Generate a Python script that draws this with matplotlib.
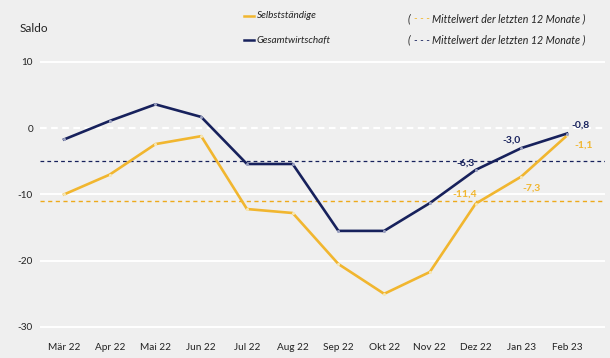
import matplotlib
matplotlib.use("Agg")
import matplotlib.pyplot as plt
from matplotlib.lines import Line2D

months = ["Mär 22", "Apr 22", "Mai 22", "Jun 22", "Jul 22", "Aug 22",
          "Sep 22", "Okt 22", "Nov 22", "Dez 22", "Jan 23", "Feb 23"]
selbst = [-10.0, -7.0, -2.4, -1.2, -12.2, -12.8, -20.5, -25.0, -21.7, -11.4, -7.3, -1.1]
gesamt = [-1.7, 1.1, 3.6, 1.7, -5.4, -5.4, -15.5, -15.5, -11.3, -6.3, -3.0, -0.8]
mean_selbst = -11.0
mean_gesamt = -4.9
yticks = [10, 0, -10, -20, -30]

# annotated points: index -> offset in points
ann_gesamt = {9: (-7, 5), 10: (-7, 6), 11: (10, 6)}
ann_selbst = {9: (-8, 7), 10: (7, -8), 11: (12, -7)}

BG = "#efefef"
NAVY = "#17215c"
YELLOW = "#f1b62f"
FONT = "Lato"

plt.rcParams["font.family"] = [FONT, "DejaVu Sans"]

fig = plt.figure(figsize=(6.10, 3.58), dpi=100, facecolor=BG)
ax = fig.add_axes([0.0656, 0.0682, 0.9262, 0.768], facecolor=BG)

x = list(range(len(months)))
ax.set_xlim(-0.525, 11.83)
ax.set_ylim(-31, 10.5)

for v in yticks:
    if v == 0:
        ax.axhline(v, color="white", lw=1.6, ls=(0, (3, 2)), zorder=1)
    else:
        ax.axhline(v, color="white", lw=1.4, zorder=1)

ax.axhline(mean_gesamt, color=NAVY, lw=0.9, ls=(0, (3, 2.5)), zorder=2)
ax.axhline(mean_selbst, color="#eeaa1c", lw=1.0, ls=(0, (3, 2.5)), zorder=2)

ax.plot(x, selbst, color=YELLOW, lw=1.9, zorder=3, marker="o", ms=2.2,
        mfc="#f7e7b5", mew=0, solid_joinstyle="round")
ax.plot(x, gesamt, color=NAVY, lw=1.9, zorder=4, marker="o", ms=2.2,
        mfc="#9aa0c0", mew=0, solid_joinstyle="round")

def fmt(v):
    return f"{v:.1f}".replace(".", ",")

for i, (dx, dy) in ann_gesamt.items():
    ax.annotate(fmt(gesamt[i]), (x[i], gesamt[i]), xytext=(dx, dy),
                textcoords="offset points", ha="center", va="center",
                fontsize=7.5, fontweight="bold", color=NAVY, zorder=5)
for i, (dx, dy) in ann_selbst.items():
    ax.annotate(fmt(selbst[i]), (x[i], selbst[i]), xytext=(dx, dy),
                textcoords="offset points", ha="center", va="center",
                fontsize=7.5, fontweight="bold", color=YELLOW, zorder=5)

ax.set_xticks(x)
ax.set_xticklabels(months)
ax.set_yticks(yticks)
ax.set_yticklabels([str(v) for v in yticks])
ax.tick_params(axis="both", length=0, labelsize=7.2, colors="#222222")
ax.tick_params(axis="x", pad=7)
ax.tick_params(axis="y", pad=5)
for s in ax.spines.values():
    s.set_visible(False)

fig.text(20 / 610, 1 - 29 / 358, "Saldo", fontsize=8.5, color="#222222",
         ha="left", va="center")

# legend
W, H = 610, 358
def fx(px):
    return px / W
def fy(py):
    return 1 - py / H

for py, col, label in [(16, YELLOW, "Selbstständige"), (40, NAVY, "Gesamtwirtschaft")]:
    fig.add_artist(Line2D([fx(244), fx(254)], [fy(py), fy(py)], color=col, lw=1.8,
                          transform=fig.transFigure))
    fig.text(fx(257), fy(py), label, fontsize=7.2, style="italic", color="#222222",
             ha="left", va="center")

for py, col in [(19, YELLOW), (40, NAVY)]:
    fig.text(fx(408), fy(py), "(", fontsize=7.6, style="italic", color="#222222",
             ha="left", va="center")
    fig.text(fx(414), fy(py), "- - -", fontsize=7.6, style="italic", color=col,
             ha="left", va="center")
    fig.text(fx(432), fy(py), "Mittelwert der letzten 12 Monate )", fontsize=7.7,
             style="italic", color="#222222", ha="left", va="center")

fig.savefig("out.png", dpi=100, facecolor=BG)
